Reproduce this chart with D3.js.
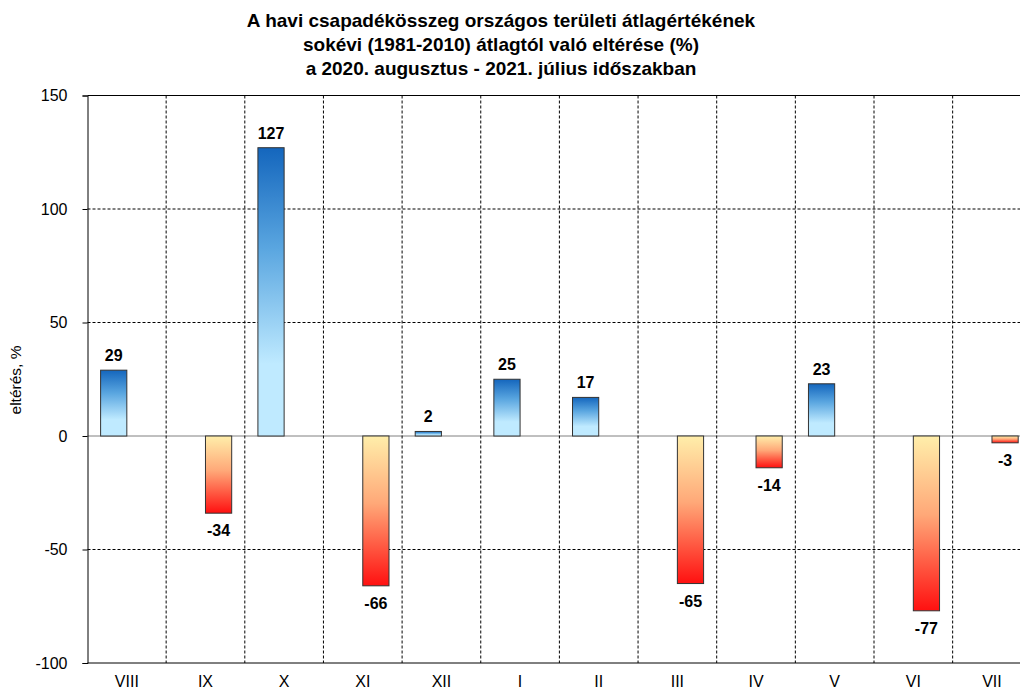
<!DOCTYPE html>
<html>
<head>
<meta charset="utf-8">
<script src="https://cdn.jsdelivr.net/npm/d3@7"></script>
<style>
  body { margin: 0; background: #fff; }
  svg { display: block; font-family: "Liberation Sans", Arial, sans-serif; }
  .title { font-weight: bold; font-size: 19px; }
  .tick text { font-size: 16px; }
  .value { font-weight: bold; font-size: 16px; }
</style>
</head>
<body>
<svg id="chart" width="1020" height="693"></svg>
<script>
const months = ["VIII","IX","X","XI","XII","I","II","III","IV","V","VI","VII"]
const deviation = [29,-34,127,-66,2,25,17,-65,-14,23,-77,-3]
const yTicks = [-100,-50,0,50,100,150]
const titleLines = [
  "A havi csapadékösszeg országos területi átlagértékének",
  "sokévi (1981-2010) átlagtól való eltérése (%)",
  "a 2020. augusztus - 2021. július időszakban"
]

let plotLeft = 87.5, plotTop = 95.5, plotBottom = 663, catW = 78.65
let svg = d3.select("#chart")

let x = d3.scaleBand().domain(months).range([plotLeft, plotLeft + catW*months.length])
let sub = d3.scaleBand().domain(["pos","neg"]).range([0, x.bandwidth()]).paddingOuter(0.5)
let y = d3.scaleLinear().domain([-100,150]).range([plotBottom, plotTop])

let defs = svg.append("defs")
let gBlue = defs.append("linearGradient").attr("id","gBlue").attr("x1",0).attr("y1",0).attr("x2",0).attr("y2",1)
gBlue.append("stop").attr("offset","0%").attr("stop-color","#1466bd")
gBlue.append("stop").attr("offset","35%").attr("stop-color","#5aa6e0")
gBlue.append("stop").attr("offset","75%").attr("stop-color","#bfeaff")
gBlue.append("stop").attr("offset","100%").attr("stop-color","#bfeaff")
let gRed = defs.append("linearGradient").attr("id","gRed").attr("x1",0).attr("y1",0).attr("x2",0).attr("y2",1)
gRed.append("stop").attr("offset","0%").attr("stop-color","#ffeeaa")
gRed.append("stop").attr("offset","45%").attr("stop-color","#ffa878")
gRed.append("stop").attr("offset","100%").attr("stop-color","#ff1010")

// title
svg.append("g").selectAll("text").data(titleLines).join("text")
  .attr("class","title")
  .attr("x", 501).attr("y",(d,i)=>27 + i*24)
  .attr("text-anchor","middle")
  .text(d=>d)

// horizontal grid
svg.append("g").selectAll("line").data(yTicks).join("line")
  .attr("x1", plotLeft).attr("x2", 1020)
  .attr("y1", d=>y(d)).attr("y2", d=>y(d))
  .attr("stroke", d=>d==0 ? "#808080" : "#000")
  .attr("stroke-width", 1)
  .attr("stroke-dasharray", d=>(d==0||d==150||d==-100) ? null : "3,2")

// vertical grid between categories
svg.append("g").selectAll("line").data(months.slice(1)).join("line")
  .attr("x1", d=>x(d)).attr("x2", d=>x(d))
  .attr("y1", plotTop).attr("y2", plotBottom)
  .attr("stroke","#000").attr("stroke-dasharray","3,2")

// y axis (plain hyphen as minus, like the original)
let yAxis = svg.append("g")
  .attr("transform", `translate(${plotLeft},0)`)
  .call(d3.axisLeft(y).tickValues(yTicks).tickFormat(d=>String(d)).tickSize(5).tickPadding(15))
  .attr("font-family", null)
yAxis.select(".domain").attr("stroke","#000")
yAxis.selectAll(".tick text").attr("fill","#000")

svg.append("text")
  .attr("transform", "translate(21,380) rotate(-90)")
  .attr("text-anchor","middle")
  .style("font-size","15.5px")
  .text("eltérés, %")

// x labels
let xAxis = svg.append("g")
  .attr("transform", `translate(0,${plotBottom})`)
  .call(d3.axisBottom(x).tickSize(0).tickPadding(13))
  .attr("font-family", null)
xAxis.select(".domain").remove()
xAxis.selectAll(".tick text").attr("fill","#000")

// bars
let rows = months.map((m,i)=>({m, v: deviation[i]}))
svg.append("g").selectAll("rect").data(rows).join("rect")
  .attr("x", d=>x(d.m) + sub(d.v >= 0 ? "pos" : "neg"))
  .attr("width", sub.bandwidth())
  .attr("y", d=>y(Math.max(0,d.v)))
  .attr("height", d=>Math.abs(y(d.v) - y(0)))
  .attr("fill", d=>d.v >= 0 ? "url(#gBlue)" : "url(#gRed)")
  .attr("stroke","#333").attr("stroke-width",1)

svg.append("g").selectAll("text").data(rows).join("text")
  .attr("class","value")
  .attr("text-anchor","middle")
  .attr("x", d=>x(d.m) + sub(d.v >= 0 ? "pos" : "neg") + sub.bandwidth()/2)
  .attr("y", d=>d.v >= 0 ? y(d.v) - 9 : y(d.v) + 23)
  .text(d=>d.v)
</script>
</body>
</html>
